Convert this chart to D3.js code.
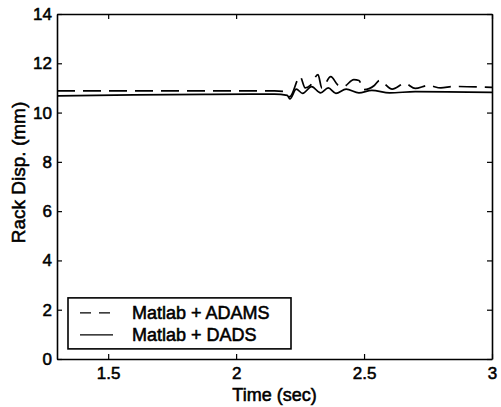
<!DOCTYPE html>
<html>
<head>
<meta charset="utf-8">
<script src="https://cdn.jsdelivr.net/npm/d3@7"></script>
<style>
  body { margin: 0; background: #fff; }
  text { font-family: "Liberation Sans", Arial, sans-serif; fill: #000; stroke: #000; stroke-width: 0.55px; }
</style>
</head>
<body>
<svg id="chart" width="501" height="407"></svg>
<script>
// data
const adamsTime = [1.3, 2.15, 2.19, 2.21, 2.25, 2.27, 2.29, 2.32, 2.335, 2.37, 2.40, 2.42, 2.46, 2.48, 2.50, 2.54, 2.56, 2.61, 2.66, 2.70, 2.75, 2.80, 2.85, 3.0];
const adamsDisp = [10.88, 10.88, 10.85, 10.65, 11.46, 11.0, 11.1, 11.54, 11.0, 11.46, 11.1, 11.06, 11.34, 11.3, 10.93, 11.1, 11.3, 10.95, 11.18, 10.98, 11.1, 11.0, 11.06, 11.02];
const dadsTime = [1.3, 1.6, 1.9, 2.15, 2.2, 2.21, 2.235, 2.26, 2.295, 2.33, 2.36, 2.39, 2.43, 2.48, 2.53, 2.6, 2.7, 3.0];
const dadsDisp = [10.68, 10.72, 10.74, 10.75, 10.7, 10.55, 10.95, 10.78, 11.05, 10.8, 11.0, 10.78, 10.95, 10.8, 10.9, 10.8, 10.85, 10.82];
const xTicks = [1.5, 2, 2.5, 3];
const yTicks = [0, 2, 4, 6, 8, 10, 12, 14];
const legendLabels = ["Matlab + ADAMS", "Matlab + DADS"];

const svg = d3.select("#chart");
const margin = { top: 14, right: 9, bottom: 48, left: 57 };
const width = 501, height = 407;
const innerWidth = width - margin.left - margin.right;
const innerHeight = height - margin.top - margin.bottom;

const g = svg.append("g")
  .attr("transform", `translate(${margin.left},${margin.top})`);

const x = d3.scaleLinear().domain([1.3, 3]).range([0, innerWidth]);
const y = d3.scaleLinear().domain([0, 14]).range([innerHeight, 0]);

// axes with inward ticks on all sides
const fmt = d => String(d);
const tick = 5;
g.append("g").attr("transform", `translate(0,${innerHeight})`)
  .call(d3.axisBottom(x).tickValues(xTicks).tickFormat(fmt).tickSizeInner(-tick).tickSizeOuter(0).tickPadding(8));
g.append("g")
  .call(d3.axisLeft(y).tickValues(yTicks).tickFormat(fmt).tickSizeInner(-tick).tickSizeOuter(0).tickPadding(5));
const topAxis = g.append("g")
  .call(d3.axisTop(x).tickValues(xTicks).tickSizeInner(-tick).tickSizeOuter(0));
const rightAxis = g.append("g").attr("transform", `translate(${innerWidth},0)`)
  .call(d3.axisRight(y).tickValues(yTicks).tickSizeInner(-tick).tickSizeOuter(0));
topAxis.selectAll("text").remove();
rightAxis.selectAll("text").remove();

g.selectAll(".domain").attr("stroke", "#000").attr("stroke-width", 1.6);
g.selectAll(".tick line").attr("stroke", "#000").attr("stroke-width", 1.2);
g.selectAll(".tick text").attr("font-size", 17).attr("font-family", "Liberation Sans, Arial, sans-serif");

// series
const line = d3.line().x(d => x(d[0])).y(d => y(d[1])).curve(d3.curveMonotoneX);
const adams = adamsTime.map((t, i) => [t, adamsDisp[i]]);
const dads = dadsTime.map((t, i) => [t, dadsDisp[i]]);

g.append("path").datum(dads)
  .attr("d", line).attr("fill", "none").attr("stroke", "#000").attr("stroke-width", 1.7);
g.append("path").datum(adams)
  .attr("d", line).attr("fill", "none").attr("stroke", "#000").attr("stroke-width", 1.7)
  .attr("stroke-dasharray", "18,8");

// axis labels
g.append("text")
  .attr("x", innerWidth / 2)
  .attr("y", innerHeight + 42)
  .attr("text-anchor", "middle")
  .attr("font-size", 18)
  .text("Time (sec)");

g.append("text")
  .attr("transform", "rotate(-90)")
  .attr("x", -(y(7) - 14))
  .attr("y", -margin.left + 25)
  .attr("text-anchor", "middle")
  .attr("font-size", 19)
  .text("Rack Disp. (mm)");

// legend
const legend = g.append("g").attr("transform", `translate(${x(1.3) + 11},${y(2.48)})`);
legend.append("rect")
  .attr("width", 223).attr("height", 51)
  .attr("fill", "#fff").attr("stroke", "#000").attr("stroke-width", 1.6);
legendLabels.forEach((lab, i) => {
  const ly = 15 + i * 22;
  legend.append("line")
    .attr("x1", 12).attr("x2", 45).attr("y1", ly).attr("y2", ly)
    .attr("stroke", "#000").attr("stroke-width", 1.4)
    .attr("stroke-dasharray", i === 0 ? "11,8" : null);
  legend.append("text")
    .attr("x", 64).attr("y", ly + 6)
    .attr("font-size", 18)
    .text(lab);
});
</script>
</body>
</html>
